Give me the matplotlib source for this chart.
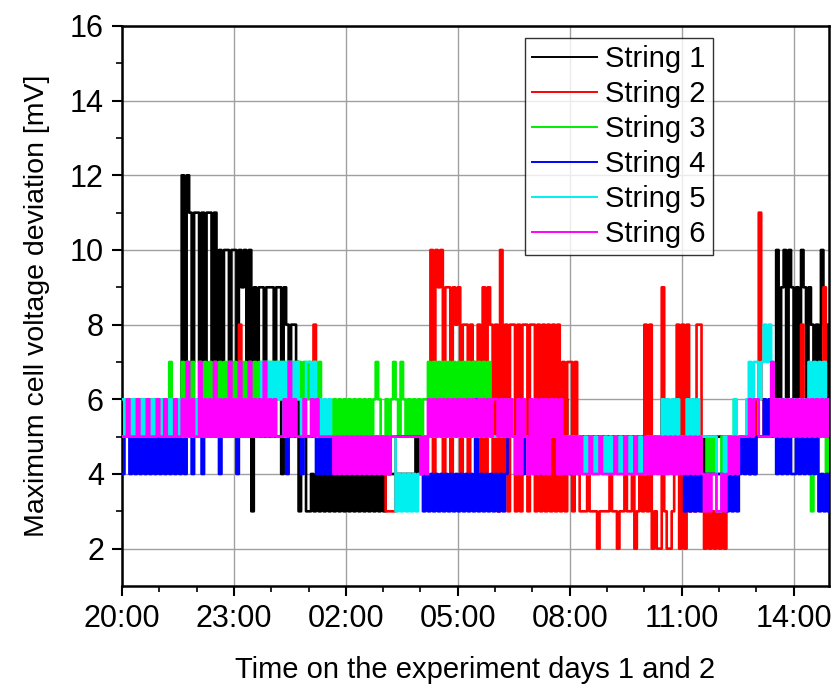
import matplotlib
matplotlib.use("Agg")
import matplotlib.pyplot as plt
import numpy as np

# values, one sample every 4 minutes from 20:00,
# 15 samples per hour (a=10, b=11, c=12 mV)
STEP_MIN = 4

STRING_1 = ["555555555555555", "555555555c7cb7b", "b7b7bb7b7a7aa7a", "a7a9a7a39799799",
            "979949878873553", "343434343434343", "434343434343434", "344444444444454",
            "555555555555555", "555555555555555", "555555555555555", "555555555555565",
            "455555555555555", "555555555555555", "555555565555555", "555555555455555",
            "555555555555454", "55555555a69a6a9", "696a9698686a868"]
STRING_2 = ["555555555555555", "555556655555555", "555555555555555", "558555555555555",
            "555555555555555", "558555555555555", "555555555555555", "533335555555555",
            "5555a4a9a499498", "948848748494984", "83a483883838838", "838383838383737",
            "737433343332333", "343323343342343", "838232293223482", "828343883242323",
            "232555555555555", "6b6556555555555", "555855555555955"]
STRING_3 = ["565656565656565", "565675656767676", "676767676767676", "767676767676767",
            "676767676767676", "767675555565656", "565656565656765", "565676576565656",
            "566767676767676", "767676767676755", "555555555555555", "555555555555555",
            "555555555555555", "454555555555555", "555555555555555", "555555555545454",
            "454555655555555", "555555555555555", "555555535555545"]
STRING_4 = ["455454545454545", "454545454545545", "554555555455555", "545555555555555",
            "555555455555455", "555454545454555", "555555555555555", "554555555555555",
            "434343434343434", "343434363434343", "434345555554555", "555455555555555",
            "555555555555555", "545555555555555", "555555555555555", "534343434444444",
            "444343434545454", "555656554545454", "454545454534343"]
STRING_5 = ["656565656565656", "656565656565656", "565656565656565", "656565656567676",
            "767675767676567", "767565656555555", "555555555555555", "555553434343434",
            "455555555555555", "555555555555555", "555565555555545", "555555555555555",
            "555554545454545", "454545454545454", "455555565656565", "556565655555553",
            "345454655556767", "767878766666666", "666666767676766"]
STRING_6 = ["556555655565556", "556555655657565", "575656575656575", "657565756565756",
            "565556575655565", "565655555545454", "545454545454545", "454555555555555",
            "454656565656565", "656565656565656", "656565654646546", "464646465646454",
            "545454445444544", "444544454445444", "545454545454545", "454545454343443",
            "343454545555656", "655555756565656", "565656565656565"]

LABELS = ["String 1", "String 2", "String 3", "String 4", "String 5", "String 6"]
COLORS = ["#000000", "#ff0000", "#00ee00", "#0000ff", "#00f0f0", "#ff00ff"]

TICK_HOURS = [0, 3, 6, 9, 12, 15, 18]
TICK_LABELS = ["20:00", "23:00", "02:00", "05:00", "08:00", "11:00", "14:00"]


def decode(groups):
    for g in groups:
        assert len(g) == 15, g
    return np.array([int(c, 16) for c in "".join(groups)], dtype=float)


plt.rcParams["font.family"] = ["Liberation Sans", "DejaVu Sans"]
plt.rcParams["path.simplify"] = False  # keep every toggle of the noisy signals

fig = plt.figure(figsize=(8.32, 6.91), dpi=100)
ax = fig.add_axes([0.1466, 0.152, 0.8498, 0.8104])

series = [STRING_1, STRING_2, STRING_3, STRING_4, STRING_5, STRING_6]
for groups, label, color in zip(series, LABELS, COLORS):
    vals = decode(groups)
    hours = np.arange(len(vals)) * STEP_MIN / 60.0
    ax.plot(hours, vals, drawstyle="steps-post", color=color, lw=1.9, label=label,
            zorder=3, snap=False)

ax.set_xlim(0, 18.95)
ax.set_ylim(1, 16)
ax.set_xticks(TICK_HOURS)
ax.set_xticklabels(TICK_LABELS)
ax.set_xticks(np.arange(0, 19, 1), minor=True)
ax.set_yticks(np.arange(2, 17, 2))
ax.set_yticks(np.arange(3, 16, 2), minor=True)

ax.grid(True, which="major", color="#a0a0a0", lw=1.0, zorder=0)
for s in ax.spines.values():
    s.set_linewidth(1.8)
ax.tick_params(which="major", direction="out", length=7, width=1.5, labelsize=22, pad=6)
ax.tick_params(which="minor", direction="out", length=4, width=1.2)

ax.set_xlabel("Time on the experiment days 1 and 2", fontsize=21, labelpad=16)
ax.set_ylabel("Maximum cell voltage deviation [mV]", fontsize=20.5, labelpad=14)

leg = ax.legend(loc="upper right", bbox_to_anchor=(0.836, 0.979), borderaxespad=0,
                fontsize=21, frameon=True, fancybox=False, handlelength=2.2,
                handletextpad=0.3, labelspacing=0.24, borderpad=0.25)
leg.get_frame().set_edgecolor("black")
leg.get_frame().set_linewidth(1.0)
for line in leg.get_lines():
    line.set_linewidth(1.4)

fig.savefig("out.png", dpi=100)
